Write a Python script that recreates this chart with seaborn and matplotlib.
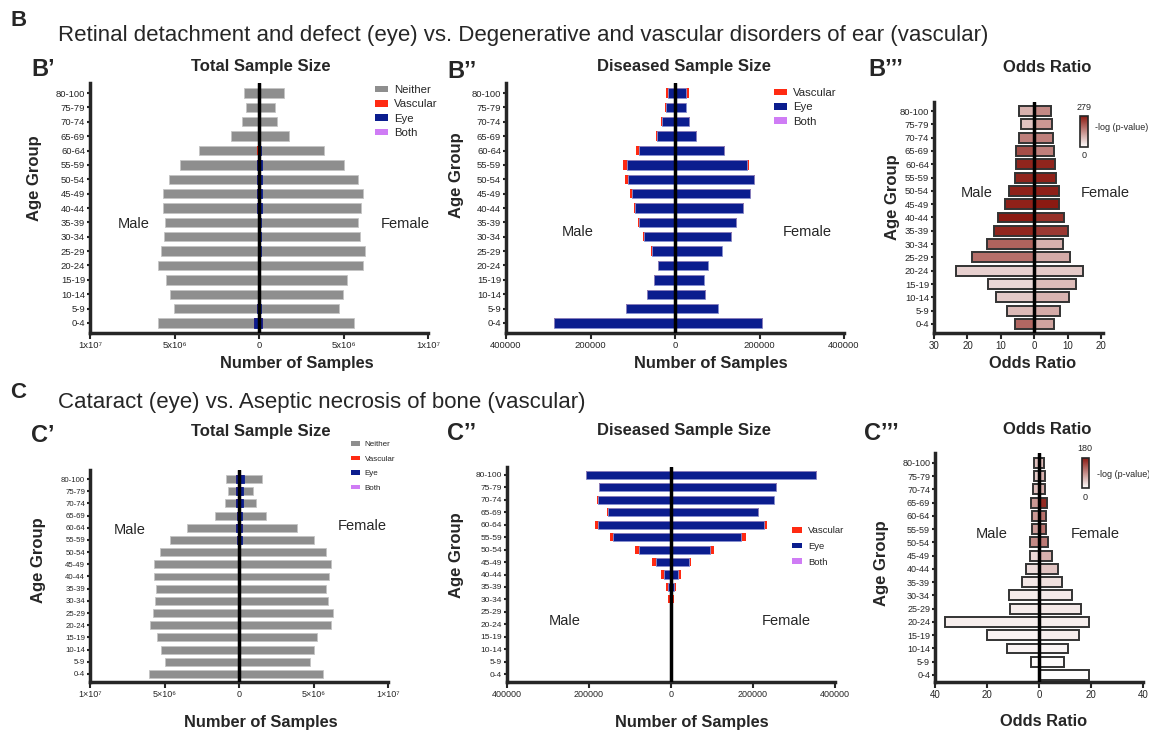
import numpy as np
import matplotlib
matplotlib.use('Agg')
import matplotlib.pyplot as plt
import seaborn as sns
from matplotlib.patches import Patch
from matplotlib.colors import LinearSegmentedColormap, Normalize
from matplotlib.cm import ScalarMappable

# ---------------- data ----------------
ages = ['80-100', '75-79', '70-74', '65-69', '60-64', '55-59', '50-54', '45-49',
        '40-44', '35-39', '30-34', '25-29', '20-24', '15-19', '10-14', '5-9', '0-4']

# Panel B: total samples (millions)
b_total_male = [0.91, 0.75, 0.98, 1.65, 3.54, 4.65, 5.33, 5.67, 5.71, 5.55, 5.63, 5.77, 5.98, 5.51, 5.26, 5.02, 6.00]
b_total_female = [1.48, 0.93, 1.08, 1.77, 3.82, 5.02, 5.85, 6.14, 6.04, 5.83, 5.96, 6.28, 6.18, 5.20, 4.98, 4.72, 5.65]
# Panel B: diseased samples (thousands)
b_eye_male = [17, 21, 30, 42, 85, 113, 110, 102, 95, 86, 74, 55, 39.5, 48.5, 65.5, 116, 286]
b_vasc_male = [5, 2, 3, 2, 8, 9, 7, 5, 2, 1, 1, 1, 0.5, 0.5, 0.5, 1, 1]
b_both_male = [0.3, 0.2, 0.2, 0.2, 0.4, 0.5, 0.4, 0.3, 0.2, 0.1, 0.1, 0.1, 0.1, 0.1, 0.1, 0.1, 0.2]
b_eye_female = [26, 25.5, 34, 49.5, 115, 170, 186, 177, 160.5, 145, 133.5, 110.5, 78, 69, 72, 102, 206]
b_vasc_female = [6, 1.5, 2, 1.5, 3, 4, 3, 2, 1.5, 1, 0.5, 0.5, 0.3, 0.3, 0.3, 0.3, 1]
b_both_female = [0.3, 0.2, 0.2, 0.2, 0.4, 0.5, 0.4, 0.3, 0.2, 0.1, 0.1, 0.1, 0.1, 0.1, 0.1, 0.1, 0.2]
# Panel B: odds ratio and -log(p)
b_or_male = [4.6, 4.1, 4.6, 5.6, 5.4, 5.9, 7.5, 8.7, 10.8, 12.2, 14.3, 18.5, 23.5, 14.0, 11.6, 8.2, 5.8]
b_or_female = [4.9, 5.3, 5.6, 6.0, 6.3, 6.4, 7.4, 7.5, 8.9, 10.0, 8.4, 10.6, 14.6, 12.4, 10.2, 7.8, 6.0]
b_logp_male = [95, 75, 155, 215, 265, 265, 270, 270, 279, 265, 190, 175, 57, 48, 65, 85, 185]
b_logp_female = [143, 126, 154, 154, 265, 270, 272, 279, 252, 240, 95, 103, 65, 82, 92, 103, 113]
b_logp_max = 279

# Panel C: total samples (millions)
c_total_male = [0.90, 0.72, 0.94, 1.62, 3.50, 4.63, 5.33, 5.69, 5.73, 5.57, 5.64, 5.78, 6.00, 5.50, 5.24, 4.99, 6.02]
c_total_female = [1.53, 0.93, 1.13, 1.82, 3.87, 5.04, 5.87, 6.16, 6.04, 5.84, 6.00, 6.29, 6.18, 5.22, 5.00, 4.76, 5.67]
# Panel C: diseased samples (thousands)
c_eye_male = [207, 175, 179, 154, 178, 140, 78, 37, 17, 7, 1.5, 0.3, 0.1, 0.05, 0.05, 0.05, 0.05]
c_vasc_male = [1, 1, 1, 1, 6, 8, 9, 9, 7, 5, 5, 2.5, 0.3, 0.1, 0.1, 0.1, 0.05]
c_both_male = [0.2, 0.2, 0.2, 0.2, 0.3, 0.3, 0.3, 0.2, 0.1, 0.1, 0.05, 0.05, 0.0, 0.0, 0.0, 0.0, 0.0]
c_eye_female = [354, 257, 250, 213, 226, 171.5, 94, 42.5, 17, 7, 2, 1, 0.1, 0.05, 0.05, 0.05, 0.05]
c_vasc_female = [3, 1, 1, 1, 9, 10.5, 10, 7, 6.5, 4, 5, 3, 0.3, 0.1, 0.1, 0.1, 0.05]
c_both_female = [0.2, 0.2, 0.2, 0.2, 0.3, 0.3, 0.3, 0.2, 0.1, 0.1, 0.05, 0.05, 0.0, 0.0, 0.0, 0.0, 0.0]
# Panel C: odds ratio and -log(p)
c_or_male = [2.1, 2.1, 2.2, 3.1, 2.6, 2.6, 3.5, 3.6, 4.9, 6.5, 11.4, 11.1, 36.1, 20.1, 12.4, 3.1, 0.0]
c_or_female = [1.9, 2.2, 2.4, 3.2, 2.8, 2.8, 3.6, 5.0, 7.3, 8.7, 12.8, 16.1, 19.4, 15.4, 11.1, 9.8, 19.4]
c_logp_male = [50, 43, 50, 81, 81, 78, 92, 30, 28, 19, 15, 15, 14, 10, 9, 4, 0]
c_logp_female = [55, 62, 68, 167, 112, 112, 105, 62, 47, 25, 17, 18, 14, 14, 8, 3, 2]
c_logp_max = 180

legend_total = ['Neither', 'Vascular', 'Eye', 'Both']
legend_dis = ['Vascular', 'Eye', 'Both']

# ---------------- style ----------------
W, H = 1149, 732
sns.set_style('ticks')
plt.rcParams['font.family'] = ['Liberation Sans', 'DejaVu Sans']

GRAY = '#8e8e8e'
RED = '#ff2a12'
BLUE = '#0b1d8e'
PURPLE = '#cf7cf5'
cmap = LinearSegmentedColormap.from_list('wr', ['#ffffff', '#8b1a12'])


def fx(x):
    return x / W


def fy(y):
    return 1 - y / H


fig = plt.figure(figsize=(W / 100, H / 100), dpi=100)


def add_ax(l, r, t, b):
    return fig.add_axes([fx(l), fy(b), (r - l) / W, (b - t) / H])


def style_ax(ax, xlim, ylim, xticks, xticklabels, ytick_fs, xtick_fs):
    ax.set_xlim(*xlim)
    ax.set_ylim(*ylim)
    ax.set_xlabel('')
    ax.set_ylabel('')
    ax.set_xticks(xticks)
    ax.set_xticklabels(xticklabels, fontsize=xtick_fs)
    ax.tick_params(axis='y', labelsize=ytick_fs, length=2.5, width=1.5, pad=1)
    ax.tick_params(axis='x', length=4, width=1.5, pad=2)
    for s in ['top', 'right']:
        ax.spines[s].set_visible(False)
    for s in ['left', 'bottom']:
        ax.spines[s].set_linewidth(2.5)
    ax.axvline(0, color='black', lw=2.5, zorder=5)


def bar(ax, vals, color, width, edge='none', lw=0.0):
    sns.barplot(x=vals, y=ages, order=ages, orient='h', color=color, width=width,
                ax=ax, errorbar=None, edgecolor=edge, linewidth=lw, saturation=1)


def stacked(ax, layers, colors, width, scale, edges):
    # layers are inner-to-outer components; draw cumulative bars outer first
    comps = [np.asarray(l, float) * scale for l in layers]
    cums = np.cumsum(comps, axis=0)
    for i in range(len(comps) - 1, -1, -1):
        bar(ax, cums[i], colors[i], width, edges[i], 0.6)


def total_panel(ax, tm, tf, eye_m, vasc_m, both_m, eye_f, vasc_f, both_f):
    for sign, t, e, v, b in [(-1, tm, eye_m, vasc_m, both_m), (1, tf, eye_f, vasc_f, both_f)]:
        t = np.asarray(t) * 1e6
        dis = (np.asarray(e) + np.asarray(v) + np.asarray(b)) * 1e3
        neither = t - dis
        stacked(ax, [sign * np.asarray(b), sign * np.asarray(e), sign * np.asarray(v), sign * neither / 1e3],
                [PURPLE, BLUE, RED, GRAY], 0.65, 1e3, ['none', BLUE, 'none', '#c4c4c4'])


def dis_panel(ax, eye_m, vasc_m, both_m, eye_f, vasc_f, both_f):
    for sign, e, v, b in [(-1, eye_m, vasc_m, both_m), (1, eye_f, vasc_f, both_f)]:
        stacked(ax, [sign * np.asarray(b), sign * np.asarray(e), sign * np.asarray(v)],
                [PURPLE, BLUE, RED], 0.65, 1e3, ['none', '#8890d0', 'none'])


def or_panel(ax, orm, orf, lpm, lpf, vmax):
    norm = Normalize(0, vmax)
    pal_m = {a: cmap(norm(v)) for a, v in zip(ages, lpm)}
    pal_f = {a: cmap(norm(v)) for a, v in zip(ages, lpf)}
    sns.barplot(x=-np.asarray(orm), y=ages, order=ages, hue=ages, hue_order=ages, palette=pal_m,
                orient='h', width=0.75, ax=ax, errorbar=None, edgecolor='#333333',
                linewidth=1.4, saturation=1, legend=False)
    sns.barplot(x=np.asarray(orf), y=ages, order=ages, hue=ages, hue_order=ages, palette=pal_f,
                orient='h', width=0.75, ax=ax, errorbar=None, edgecolor='#333333',
                linewidth=1.4, saturation=1, legend=False)


def colorbar(l, r, t, b, vmax, tx, ty_top, ty_bot, lx, ly):
    cax = add_ax(l, r, t, b)
    cb = fig.colorbar(ScalarMappable(Normalize(0, vmax), cmap), cax=cax)
    cb.set_ticks([])
    cb.outline.set_linewidth(1.2)
    fig.text(fx(tx), fy(ty_top), str(vmax), fontsize=6.5, ha='center', va='center')
    fig.text(fx(tx), fy(ty_bot), '0', fontsize=6.5, ha='center', va='center')
    fig.text(fx(lx), fy(ly), '-log (p-value)', fontsize=6.5, ha='left', va='center')


def legend(labels, colors, x, y, fs, spacing):
    handles = [Patch(facecolor=c, edgecolor='none', label=l) for l, c in zip(labels, colors)]
    fig.legend(handles=handles, loc='upper left', bbox_to_anchor=(fx(x), fy(y)), frameon=False,
               fontsize=fs, handlelength=1.1, handleheight=0.55, handletextpad=0.6,
               labelspacing=spacing, borderpad=0, borderaxespad=0)


def txt(x, y, s, **kw):
    fig.text(fx(x), fy(y), s, ha=kw.pop('ha', 'center'), va=kw.pop('va', 'center'), **kw)


sci_lbl = ['1x10⁷', '5x10⁶', '0', '5x10⁶', '1x10⁷']
sci_lbl_c = ['1×10⁷', '5×10⁶', '0', '5×10⁶', '1×10⁷']
big = [-1e7, -5e6, 0, 5e6, 1e7]
mid = [-4e5, -2e5, 0, 2e5, 4e5]
mid_lbl = ['400000', '200000', '0', '200000', '400000']

# ---------------- B' ----------------
ax = add_ax(90, 428, 83, 333)
total_panel(ax, b_total_male, b_total_female, b_eye_male, b_vasc_male, b_both_male,
            b_eye_female, b_vasc_female, b_both_female)
style_ax(ax, (-1e7, 1e7), (16.7, -0.7), big, sci_lbl, 6.8, 6.8)

# ---------------- B'' ----------------
ax = add_ax(506, 844, 83, 333)
dis_panel(ax, b_eye_male, b_vasc_male, b_both_male, b_eye_female, b_vasc_female, b_both_female)
style_ax(ax, (-4e5, 4e5), (16.7, -0.7), mid, mid_lbl, 6.8, 6.8)

# ---------------- B''' ----------------
ax = add_ax(934, 1103, 102, 333)
or_panel(ax, b_or_male, b_or_female, b_logp_male, b_logp_female, b_logp_max)
style_ax(ax, (-30, 20.5), (16.68, -0.68), [-30, -20, -10, 0, 10, 20],
         ['30', '20', '10', '0', '10', '20'], 6.8, 7)
colorbar(1080, 1088, 116, 147, b_logp_max, 1084, 107, 155, 1095, 128)

# ---------------- C' ----------------
ax = add_ax(90, 388, 470, 682)
total_panel(ax, c_total_male, c_total_female, c_eye_male, c_vasc_male, c_both_male,
            c_eye_female, c_vasc_female, c_both_female)
style_ax(ax, (-1e7, 1e7), (16.66, -0.74), big, sci_lbl_c, 5.6, 6.5)

# ---------------- C'' ----------------
ax = add_ax(507, 835, 467, 682)
dis_panel(ax, c_eye_male, c_vasc_male, c_both_male, c_eye_female, c_vasc_female, c_both_female)
style_ax(ax, (-4e5, 4e5), (16.64, -0.64), mid, mid_lbl, 6.0, 6.5)

# ---------------- C''' ----------------
ax = add_ax(935, 1143, 453, 682)
or_panel(ax, c_or_male, c_or_female, c_logp_male, c_logp_female, c_logp_max)
style_ax(ax, (-40, 40), (16.53, -0.75), [-40, -20, 0, 20, 40],
         ['40', '20', '0', '20', '40'], 6.5, 7)
colorbar(1082, 1089, 458, 488, c_logp_max, 1085, 449, 497, 1097, 474)

# ---------------- legends ----------------
legend(legend_total, [GRAY, RED, BLUE, PURPLE], 375, 85, 8.2, 0.38)
legend(legend_dis, [RED, BLUE, PURPLE], 774, 88, 8.2, 0.38)
legend(legend_total, [GRAY, RED, BLUE, PURPLE], 351, 441, 5.8, 0.9)
legend(legend_dis, [RED, BLUE, PURPLE], 792, 526, 6.8, 0.72)

# ---------------- texts ----------------
txt(10, 20, 'B', fontsize=16, weight='bold', ha='left')
txt(58, 35, 'Retinal detachment and defect (eye) vs. Degenerative and vascular disorders of ear (vascular)',
    fontsize=16, ha='left')
txt(10, 392, 'C', fontsize=16, weight='bold', ha='left')
txt(58, 402, 'Cataract (eye) vs. Aseptic necrosis of bone (vascular)', fontsize=16, ha='left')

txt(31, 70, 'B’', fontsize=17, weight='bold', ha='left')
txt(447, 72, 'B’’', fontsize=17, weight='bold', ha='left')
txt(868, 70, 'B’’’', fontsize=17, weight='bold', ha='left')
txt(31, 435, 'C’', fontsize=17, weight='bold', ha='left')
txt(447, 433, 'C’’', fontsize=17, weight='bold', ha='left')
txt(864, 433, 'C’’’', fontsize=17, weight='bold', ha='left')

txt(261, 67, 'Total Sample Size', fontsize=12, weight='bold')
txt(684, 67, 'Diseased Sample Size', fontsize=12, weight='bold')
txt(1047, 67, 'Odds Ratio', fontsize=12, weight='bold')
txt(261, 431, 'Total Sample Size', fontsize=12, weight='bold')
txt(684, 430, 'Diseased Sample Size', fontsize=12, weight='bold')
txt(1047, 430, 'Odds Ratio', fontsize=12, weight='bold')

txt(297, 363, 'Number of Samples', fontsize=11.8, weight='bold')
txt(711, 363, 'Number of Samples', fontsize=11.8, weight='bold')
txt(1033, 363, 'Odds Ratio', fontsize=11.8, weight='bold')
txt(261, 722, 'Number of Samples', fontsize=11.8, weight='bold')
txt(692, 722, 'Number of Samples', fontsize=11.8, weight='bold')
txt(1044, 722, 'Odds Ratio', fontsize=11.8, weight='bold')

for x, y in [(35, 178), (457, 175), (893, 197), (38, 560), (457, 555), (882, 563)]:
    txt(x, y, 'Age Group', fontsize=12, weight='bold', rotation=90)

for (mx, my), (fxp, fyp) in [((134, 224), (405, 224)), ((578, 232), (807, 232)),
                              ((977, 193), (1105, 193)), ((130, 530), (362, 526)),
                              ((565, 621), (786, 621)), ((992, 534), (1095, 534))]:
    txt(mx, my, 'Male', fontsize=10.5)
    txt(fxp, fyp, 'Female', fontsize=10.5)

fig.savefig('out.png', dpi=100)
